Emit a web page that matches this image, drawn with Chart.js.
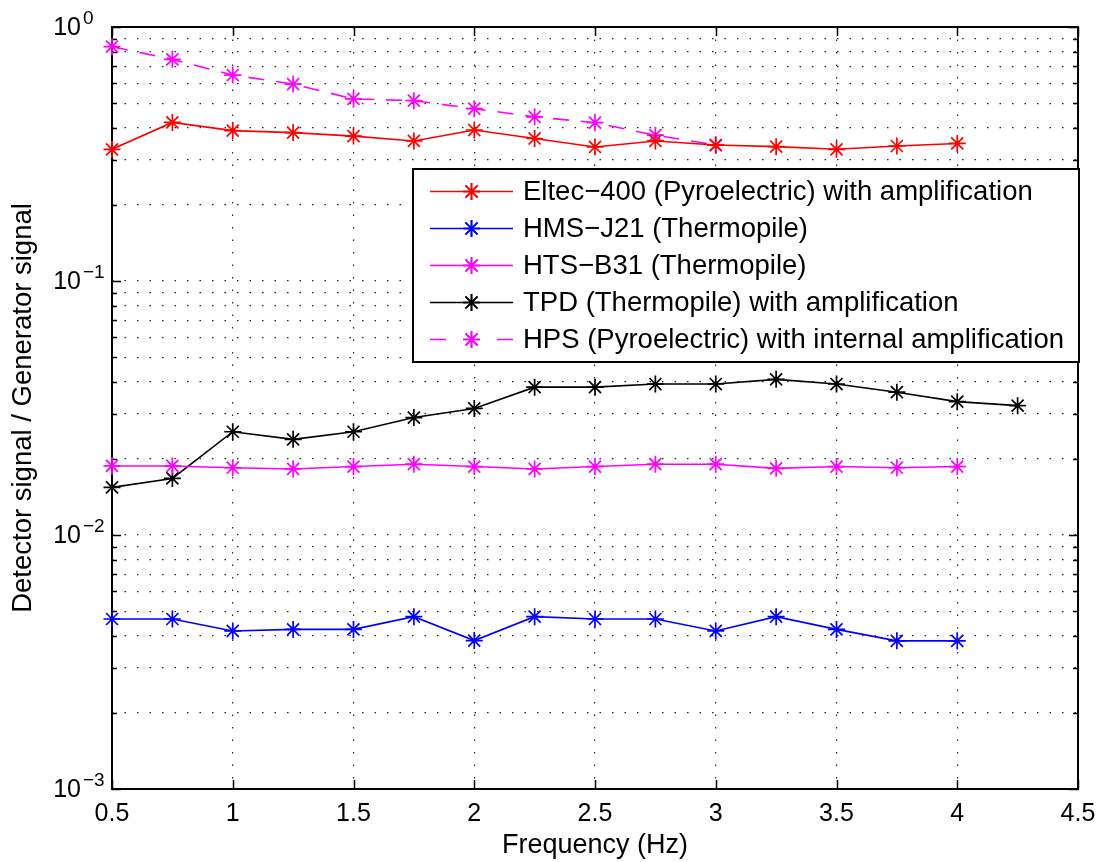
<!DOCTYPE html>
<html>
<head>
<meta charset="utf-8">
<title>Detector response vs frequency</title>
<script src="https://cdn.jsdelivr.net/npm/chart.js@4/dist/chart.umd.min.js"></script>
<style>
  html, body { margin: 0; padding: 0; background: #fff; }
  #wrap { width: 1099px; height: 862px; position: relative; }
</style>
</head>
<body>
<div id="wrap"><canvas id="c"></canvas></div>
<script>
// Modulation frequency (Hz)
const freq    = [0.5, 0.75, 1, 1.25, 1.5, 1.75, 2, 2.25, 2.5, 2.75, 3, 3.25, 3.5, 3.75, 4];
const freqTPD = [0.5, 0.75, 1, 1.25, 1.5, 1.75, 2, 2.25, 2.5, 2.75, 3, 3.25, 3.5, 3.75, 4, 4.25];
const freqHPS = [0.5, 0.75, 1, 1.25, 1.5, 1.75, 2, 2.25, 2.5, 2.75, 3];

// Detector signal / generator signal
const eltec400 = [0.330, 0.421, 0.391, 0.384, 0.372, 0.356, 0.393, 0.364, 0.337, 0.356, 0.343, 0.338, 0.330, 0.340, 0.348];
const hmsJ21   = [0.00467, 0.00467, 0.00419, 0.00425, 0.00425, 0.00477, 0.00384, 0.00477, 0.00467, 0.00467, 0.00419, 0.00477, 0.00425, 0.00383, 0.00383];
const htsB31   = [0.0187, 0.0187, 0.0184, 0.0182, 0.0186, 0.0190, 0.0186, 0.0182, 0.0186, 0.0190, 0.0190, 0.0183, 0.0186, 0.0184, 0.0186];
const tpd      = [0.0154, 0.0167, 0.0255, 0.0238, 0.0255, 0.0290, 0.0315, 0.0382, 0.0382, 0.0393, 0.0393, 0.0410, 0.0393, 0.0365, 0.0335, 0.0323];
const hps      = [0.837, 0.746, 0.647, 0.596, 0.521, 0.513, 0.477, 0.443, 0.420, 0.375, 0.343];

const seriesLabels = [
  'Eltec\u2212400 (Pyroelectric) with amplification',
  'HMS\u2212J21 (Thermopile)',
  'HTS\u2212B31 (Thermopile)',
  'TPD (Thermopile) with amplification',
  'HPS (Pyroelectric) with internal amplification'
];

// Axis ticks
const xTickValues = [0.5, 1, 1.5, 2, 2.5, 3, 3.5, 4, 4.5];
const xTickLabels = ['0.5', '1', '1.5', '2', '2.5', '3', '3.5', '4', '4.5'];
const yDecades    = [0.001, 0.01, 0.1, 1];
const yMinorSteps = [2, 3, 4, 5, 6, 7, 8, 9];
const yTickLabels = [['10', '\u22123'], ['10', '\u22122'], ['10', '\u22121'], ['10', '0']];

const FONT = '"Liberation Sans", Arial, Helvetica, sans-serif';
Chart.defaults.font.family = FONT;
Chart.defaults.color = '#000';

const pts = (xs, ys) => xs.map((x, i) => ({ x, y: ys[i] }));

function series(label, xs, ys, color, dash) {
  return {
    label,
    data: pts(xs, ys),
    borderColor: color,
    backgroundColor: color,
    borderWidth: 1.6,
    borderDash: dash || [],
    pointStyle: 'star',
    pointRadius: 8.5,
    pointBorderWidth: 1.7,
    pointBorderColor: color,
    pointHoverRadius: 8.5,
    tension: 0,
    clip: false
  };
}

// Axes frame with inward tick marks on all four sides (drawn below the data)
const frame = {
  id: 'frame',
  beforeDatasetsDraw(chart) {
    const { ctx, chartArea: a, scales: { x, y } } = chart;
    ctx.save();
    ctx.strokeStyle = '#000';
    ctx.lineWidth = 1.5;
    ctx.beginPath();
    xTickValues.forEach(v => {
      const px = Math.round(x.getPixelForValue(v)) + 0.5;
      ctx.moveTo(px, a.bottom); ctx.lineTo(px, a.bottom - 9);
      ctx.moveTo(px, a.top);    ctx.lineTo(px, a.top + 9);
    });
    y.ticks.forEach(t => {
      const py = Math.round(y.getPixelForValue(t.value)) + 0.5;
      const len = t.major ? 9 : 5;
      ctx.moveTo(a.left, py);  ctx.lineTo(a.left + len, py);
      ctx.moveTo(a.right, py); ctx.lineTo(a.right - len, py);
    });
    ctx.stroke();
    ctx.lineWidth = 2;
    ctx.strokeRect(a.left, a.top, a.right - a.left, a.bottom - a.top);
    ctx.restore();
  }
};

// Power-of-ten labels on the log axis
const yLabels = {
  id: 'yLabels',
  afterDraw(chart) {
    const { ctx, chartArea: a, scales: { y } } = chart;
    ctx.save();
    ctx.fillStyle = '#000';
    yDecades.forEach((v, i) => {
      const py = y.getPixelForValue(v);
      const [base, exp] = yTickLabels[i];
      ctx.font = '25px ' + FONT;
      ctx.textAlign = 'right';
      ctx.textBaseline = 'middle';
      ctx.fillText(base, a.left - 31, py + 1);
      ctx.font = '19px ' + FONT;
      ctx.textAlign = 'left';
      ctx.textBaseline = 'alphabetic';
      ctx.fillText(exp, a.left - 29, py - 3);
    });
    ctx.restore();
  }
};

// Boxed legend: line sample with marker, then the series name
const boxLegend = {
  id: 'boxLegend',
  afterDraw(chart, args, o) {
    const { ctx, chartArea: a } = chart;
    const left = a.left + o.offsetLeft, top = a.top + o.offsetTop;
    const right = a.right + o.offsetRight;
    const sets = chart.data.datasets;
    const height = o.rowGap * sets.length + o.padY * 2;
    ctx.save();
    ctx.fillStyle = '#fff';
    ctx.fillRect(left, top, right - left, height);
    ctx.strokeStyle = '#000';
    ctx.lineWidth = 2;
    ctx.strokeRect(left, top, right - left, height);
    ctx.font = o.fontSize + 'px ' + FONT;
    ctx.textBaseline = 'middle';
    ctx.textAlign = 'left';
    sets.forEach((d, i) => {
      const cy = top + o.padY + o.rowGap * (i + 0.5);
      const x0 = left + o.sampleStart, x1 = x0 + o.sampleLen, xm = (x0 + x1) / 2;
      ctx.strokeStyle = d.borderColor;
      ctx.lineWidth = d.borderWidth;
      if (d.borderDash && d.borderDash.length) {
        ctx.setLineDash([d.borderDash[0], o.sampleLen - 2 * d.borderDash[0]]);
      } else {
        ctx.setLineDash([]);
      }
      ctx.beginPath(); ctx.moveTo(x0, cy); ctx.lineTo(x1, cy); ctx.stroke();
      ctx.setLineDash([]);
      ctx.lineWidth = d.pointBorderWidth;
      ctx.beginPath();
      Chart.helpers.drawPoint(ctx, { pointStyle: 'star', radius: d.pointRadius, rotation: 0, borderWidth: d.pointBorderWidth }, xm, cy);
      ctx.stroke();
      ctx.fillStyle = '#000';
      ctx.fillText(d.label, x1 + o.textGap, cy + 1);
    });
    ctx.restore();
  }
};

new Chart(document.getElementById('c'), {
  type: 'line',
  data: {
    datasets: [
      series(seriesLabels[0], freq, eltec400, '#ff0000'),
      series(seriesLabels[1], freq, hmsJ21, '#0000ff'),
      series(seriesLabels[2], freq, htsB31, '#ff00ff'),
      series(seriesLabels[3], freqTPD, tpd, '#000000'),
      series(seriesLabels[4], freqHPS, hps, '#ff00ff', [16, 12])
    ]
  },
  options: {
    responsive: true,
    maintainAspectRatio: false,
    animation: false,
    events: [],
    layout: { padding: { top: 27, right: 21, left: 0, bottom: 0 } },
    plugins: {
      legend: { display: false },
      tooltip: { enabled: false },
      boxLegend: {
        offsetLeft: 301, offsetTop: 142, offsetRight: 1,
        rowGap: 37, padY: 4,
        sampleStart: 17, sampleLen: 83, textGap: 10,
        fontSize: 27.5
      }
    },
    scales: {
      x: {
        type: 'linear',
        min: 0.5,
        max: 4.5,
        afterBuildTicks: s => { s.ticks = xTickValues.map(v => ({ value: v })); },
        afterFit: s => { s.height = 73; s.paddingLeft = 0; s.paddingRight = 0; },
        ticks: {
          font: { size: 25 },
          color: '#000',
          padding: 10,
          maxRotation: 0,
          autoSkip: false,
          callback: (v, i) => xTickLabels[i]
        },
        grid: { color: 'rgba(0,0,0,0.85)', lineWidth: 1.2, drawTicks: false },
        border: { display: false, dash: [1.5, 11] },
        title: {
          display: true,
          text: 'Frequency (Hz)',
          font: { size: 27, lineHeight: 1.2 },
          color: '#000',
          padding: { top: 0, bottom: 0 }
        }
      },
      y: {
        type: 'logarithmic',
        min: 0.001,
        max: 1,
        afterBuildTicks: s => {
          const t = [];
          yDecades.forEach((d, i) => {
            t.push({ value: d, major: true });
            if (i < yDecades.length - 1) yMinorSteps.forEach(m => t.push({ value: d * m, major: false }));
          });
          s.ticks = t;
        },
        afterFit: s => { s.width = 112; s.paddingTop = 0; s.paddingBottom = 0; },
        ticks: { display: false },
        grid: { color: 'rgba(0,0,0,0.85)', lineWidth: 1.2, drawTicks: false },
        border: { display: false, dash: [1.5, 11] },
        title: {
          display: true,
          text: 'Detector signal / Generator signal',
          font: { size: 27.5, lineHeight: 1.2 },
          color: '#000',
          padding: { top: 7, bottom: 0 }
        }
      }
    }
  },
  plugins: [frame, yLabels, boxLegend]
});
</script>
</body>
</html>
